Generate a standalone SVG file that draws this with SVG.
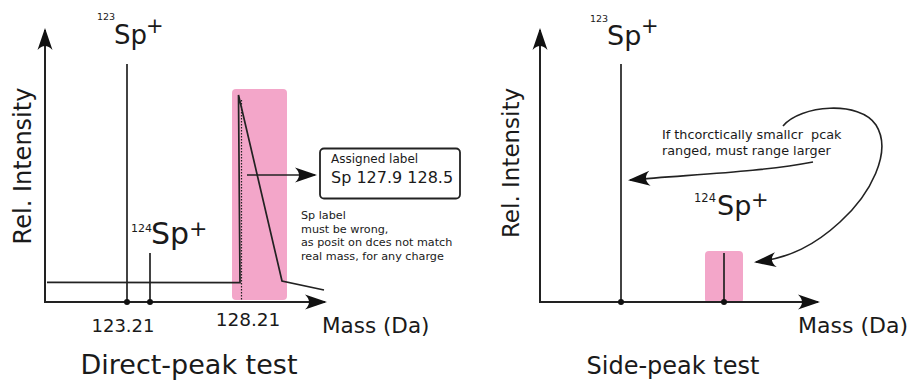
<svg xmlns="http://www.w3.org/2000/svg" width="912" height="380" viewBox="0 0 912 380">
<style>
text{font-family:"DejaVu Sans","Liberation Sans",sans-serif;fill:#1a1a1a}
.ax{stroke:#222;stroke-width:2;fill:none}
.pk{stroke:#222;stroke-width:1.7;fill:none}
.ar{stroke:#222;stroke-width:1.6;fill:none}
.pink{fill:#f3a6c9}
.dot{fill:#111}
</style>
<defs>
<marker id="ah" markerUnits="userSpaceOnUse" markerWidth="30" markerHeight="20" viewBox="-24 -10 30 20" refX="-2" refY="0" orient="auto" overflow="visible">
<path d="M0,0 L-22,-7.5 Q-14,0 -22,7.5 Z" fill="#111"/>
</marker>
</defs>

<g id="left-panel">
<g id="left-range"><rect class="pink" x="232" y="89" width="55" height="211" rx="4"/></g>
<g id="left-axes">
<line class="ax" x1="45" y1="303" x2="45" y2="30" marker-end="url(#ah)"/>
<line class="ax" x1="44" y1="302" x2="325" y2="302" marker-end="url(#ah)"/>
<text transform="translate(31,166) rotate(-90)" font-size="24" text-anchor="middle">Rel. Intensity</text>
<text x="322" y="333" font-size="21.5">Mass (Da)</text>
<text x="123" y="332" font-size="18" text-anchor="middle">123.21</text>
<text x="248" y="326" font-size="18.5" text-anchor="middle">128.21</text>
<text x="189" y="374" font-size="27" text-anchor="middle">Direct-peak test</text>
</g>
<g id="left-peak-123">
<line class="pk" x1="127" y1="64" x2="127" y2="302"/>
<circle class="dot" cx="127" cy="302" r="3"/>
<text x="97" y="20" font-size="9.5">123</text>
<text x="114" y="44" font-size="26">Sp</text>
<text x="146" y="33" font-size="21">+</text>
</g>
<g id="left-peak-124">
<line class="pk" x1="150" y1="253" x2="150" y2="302"/>
<circle class="dot" cx="150" cy="302" r="3"/>
<text x="131" y="232" font-size="11">124</text>
<text x="151" y="244" font-size="30">Sp</text>
<text x="189" y="236" font-size="22">+</text>
</g>
<g id="left-spectrum">
<path class="pk" d="M47,282.3 L240,282.6 L238.5,95 L282,281 L324,290"/>
<line x1="241.5" y1="100" x2="241.5" y2="300" stroke="#222" stroke-width="1.2" stroke-dasharray="1.5,1.5"/>
</g>
<g id="assigned-label-box">
<rect x="320" y="148.5" width="140" height="50" rx="4" fill="#fff" stroke="#222" stroke-width="1.8"/>
<text x="331" y="163" font-size="12">Assigned label</text>
<text x="331" y="183" font-size="16">Sp 127.9 128.5</text>
</g>
<g id="left-note">
<text x="301" y="219" font-size="11.2">Sp label</text>
<text x="301" y="232.5" font-size="11.2">must be wrong,</text>
<text x="301" y="246" font-size="11.2">as posit on dces not match</text>
<text x="301" y="260" font-size="11.2">real mass, for any charge</text>
</g>
</g>

<g id="right-panel">
<g id="right-range"><rect class="pink" x="705" y="251" width="38" height="52" rx="4"/></g>
<g id="right-axes">
<line class="ax" x1="540" y1="303" x2="540" y2="30" marker-end="url(#ah)"/>
<line class="ax" x1="539" y1="302" x2="818" y2="302" marker-end="url(#ah)"/>
<text transform="translate(519,163) rotate(-90)" font-size="23" text-anchor="middle">Rel. Intensity</text>
<text x="798" y="333" font-size="22">Mass (Da)</text>
<text x="673" y="374" font-size="24" text-anchor="middle">Side-peak test</text>
</g>
<g id="right-peak-123">
<line class="pk" x1="621" y1="64" x2="621" y2="302"/>
<circle class="dot" cx="621" cy="302" r="3"/>
<text x="590" y="22" font-size="9.5">123</text>
<text x="607" y="45" font-size="27">Sp</text>
<text x="641" y="33" font-size="21">+</text>
</g>
<g id="right-peak-124">
<line class="pk" x1="724" y1="253" x2="724" y2="302"/>
<circle class="dot" cx="724" cy="302" r="3"/>
<text x="694" y="202" font-size="11.5">124</text>
<text x="717" y="215" font-size="27">Sp</text>
<text x="751" y="207" font-size="21">+</text>
</g>
<g id="right-note">
<text x="662" y="139" font-size="12.8" xml:space="preserve">If thcorctically smallcr  pcak</text>
<text x="662" y="155" font-size="12.8">ranged, must range larger</text>
</g>
</g>

<g id="connectors">
<line class="ar" x1="247" y1="175" x2="315" y2="175" marker-end="url(#ah)"/>
<path class="ar" d="M813,162 C760,172 700,174 630,180" marker-end="url(#ah)"/>
<path class="ar" d="M783,126 C800,105 860,100 876,125 C893,152 870,195 840,222 C815,245 790,258 756,262" marker-end="url(#ah)"/>
</g>
</svg>
